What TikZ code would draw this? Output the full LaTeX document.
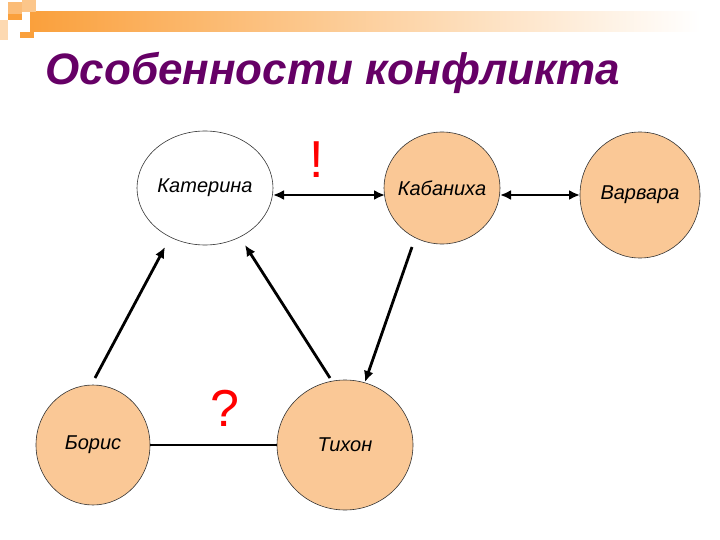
\documentclass[tikz,border=0pt]{standalone}
\usepackage{fontspec}
\setmainfont{Liberation Sans}
\usetikzlibrary{shapes.geometric,arrows.meta}
\definecolor{peach}{RGB}{250,200,150}
\definecolor{ttl}{RGB}{102,0,102}
\definecolor{org}{RGB}{250,160,60}
\begin{document}
\begin{tikzpicture}[x=1pt,y=-1pt,
  pers/.style={ellipse,draw=black!80,line width=0.6pt,fill=peach,inner sep=-4pt,font=\itshape\fontsize{20}{24}\selectfont},
  conn/.style={line width=2.8pt,black},
  arr/.style={conn,-{Latex[length=11pt,width=10pt]}}]
\useasboundingbox (0,0) rectangle (720,540);
% header decoration
\shade[left color=org,right color=white] (30,12) rectangle (700,32);
\fill[org!70] (8,2) rectangle (22,14);
\fill[org] (8,14) rectangle (22,20);
\fill[org!60] (22,0) rectangle (36,12);
\fill[org!40] (0,20) rectangle (8,40);
\fill[org] (20,32) rectangle (34,38);
% title
\node[anchor=west,text=ttl,font=\bfseries\itshape\fontsize{44}{48}\selectfont] (title) at (42,73) {Особенности конфликта};
% nodes
\node[pers,fill=white,minimum width=136pt,minimum height=114pt] (kat) at (205,188) {Катерина};
\node[pers,minimum width=116pt,minimum height=112pt] (kab) at (442,188) {Кабаниха};
\node[pers,minimum width=120pt,minimum height=126pt] (var) at (640,195) {Варвара};
\node[pers,minimum width=114pt,minimum height=120pt] (bor) at (93,445) {Борис};
\node[pers,minimum width=136pt,minimum height=130pt] (tih) at (345,445) {Тихон};
% connectors
\draw[conn,{Latex[length=11pt,width=10pt]}-{Latex[length=11pt,width=10pt]}] (273,195) coordinate (ka) -- (385,195) coordinate (kb);
\draw[conn,{Latex[length=11pt,width=10pt]}-{Latex[length=11pt,width=10pt]}] (500,195) coordinate (kc) -- (580,195) coordinate (vd);
\draw[conn] (bor.east) -- (tih.west);
\draw[arr] (95,378) coordinate (b1) -- (165,247) coordinate (k1);
\draw[arr] (330,378) coordinate (t1) -- (245,245) coordinate (k2);
\draw[arr] (412,247) coordinate (kb1) -- (365,382) coordinate (t2);
% marks
\node[text=red,font=\fontsize{52}{56}\selectfont] (ex) at (317,160) {!};
\node[text=red,font=\fontsize{52}{56}\selectfont] (qm) at (225,408) {?};
\end{tikzpicture}
\end{document}
